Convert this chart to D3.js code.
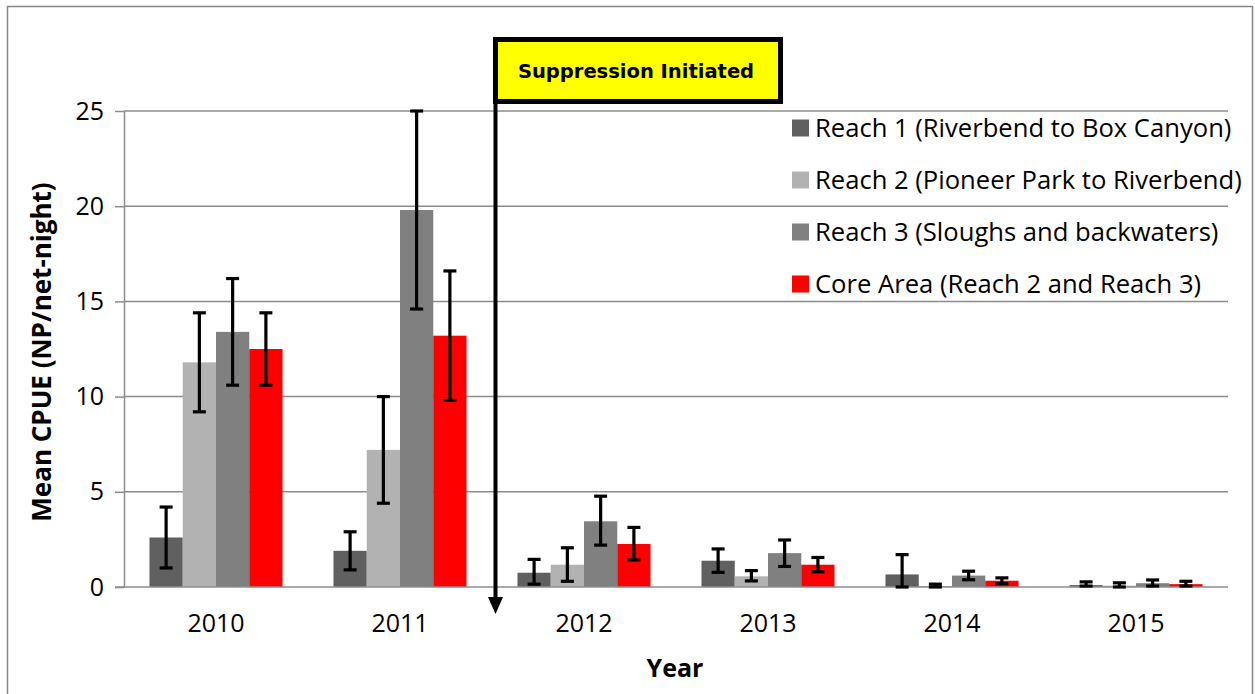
<!DOCTYPE html>
<html><head><meta charset="utf-8">
<script src="https://cdn.jsdelivr.net/npm/d3@7"></script>
<style>body{margin:0;background:#fff;} svg{display:block;}</style>
</head><body>
<svg id="c" width="1255" height="694"></svg>
<script>
const years = ["2010","2011","2012","2013","2014","2015"];
const seriesNames = ["Reach 1 (Riverbend to Box Canyon)","Reach 2 (Pioneer Park to Riverbend)","Reach 3 (Sloughs and backwaters)","Core Area (Reach 2 and Reach 3)"];
const seriesColors = ["#606060","#b2b2b2","#808080","#ff0000"];
const reach1 = [2.6, 1.9, 0.75, 1.38, 0.66, 0.1];
const reach2 = [11.8, 7.2, 1.17, 0.56, 0.05, 0.07];
const reach3 = [13.4, 19.8, 3.45, 1.78, 0.6, 0.2];
const core   = [12.5, 13.2, 2.26, 1.17, 0.33, 0.15];
const reach1Low  = [1.0, 0.9, 0.15, 0.77, 0.0, 0.05];
const reach1High = [4.2, 2.9, 1.45, 2.0, 1.7, 0.27];
const reach2Low  = [9.2, 4.4, 0.3, 0.32, 0.0, 0.0];
const reach2High = [14.4, 10.0, 2.06, 0.86, 0.15, 0.22];
const reach3Low  = [10.6, 14.6, 2.2, 1.08, 0.38, 0.05];
const reach3High = [16.2, 25.0, 4.77, 2.47, 0.83, 0.37];
const coreLow    = [10.6, 9.8, 1.42, 0.8, 0.17, 0.05];
const coreHigh   = [14.4, 16.6, 3.13, 1.55, 0.48, 0.3];
const yTicks = [0,5,10,15,20,25];

const values = [reach1, reach2, reach3, core];
const lows = [reach1Low, reach2Low, reach3Low, coreLow];
const highs = [reach1High, reach2High, reach3High, coreHigh];

const svg = d3.select("#c");
const font = "'Open Sans', Lato, sans-serif";
const L = 124, R = 1228, T = 111, B = 587;

// outer border
svg.append("rect").attr("x",7.5).attr("y",6.5).attr("width",1245).attr("height",700)
  .attr("fill","#fff").attr("stroke","#868686").attr("stroke-width",1.5);

const x0 = d3.scaleBand().domain(years).range([L,R]).paddingInner(0.277).paddingOuter(0.1385);
const x1 = d3.scaleBand().domain(d3.range(4)).range([0,x0.bandwidth()]);
const y = d3.scaleLinear().domain([0,25]).range([B,T]);

// gridlines
svg.append("g").selectAll("line").data(yTicks.filter(d=>d>0)).join("line")
  .attr("x1",L).attr("x2",R).attr("y1",d=>y(d)).attr("y2",d=>y(d))
  .attr("stroke","#8c8c8c").attr("stroke-width",1.5);

// y axis
const ya = svg.append("g").attr("transform",`translate(${L},0)`)
  .call(d3.axisLeft(y).tickValues(yTicks).tickSize(9).tickPadding(11).tickSizeOuter(0));
ya.select(".domain").attr("stroke","#8c8c8c").attr("stroke-width",1.5);
ya.selectAll(".tick line").attr("stroke","#8c8c8c").attr("stroke-width",1.5);
ya.selectAll("text").attr("font-family",font).attr("font-size",25).attr("fill","#000");

// bars
const data = [];
years.forEach((yr,i)=>{ for(let s=0;s<4;s++) data.push({yr,s,v:values[s][i],lo:lows[s][i],hi:highs[s][i]}); });
const bw = x1.bandwidth();
svg.append("g").selectAll("rect").data(data).join("rect")
  .attr("x",d=>x0(d.yr)+x1(d.s)).attr("width",bw)
  .attr("y",d=>y(d.v)).attr("height",d=>B-y(d.v))
  .attr("fill",d=>seriesColors[d.s]);

// x axis
const xa = svg.append("g").attr("transform",`translate(0,${B})`)
  .call(d3.axisBottom(x0).tickSize(0).tickPadding(27).tickSizeOuter(0));
xa.select(".domain").attr("stroke","#8c8c8c").attr("stroke-width",1.5).attr("d",`M${L-9},0H${R}`);
xa.selectAll("text").attr("font-family",font).attr("font-size",25).attr("fill","#000");

// error bars
const eg = svg.append("g").attr("stroke","#000").attr("stroke-width",3.2);
data.forEach(d=>{
  const cx = x0(d.yr)+x1(d.s)+bw/2;
  eg.append("line").attr("x1",cx).attr("x2",cx).attr("y1",y(d.lo)).attr("y2",y(d.hi));
  eg.append("line").attr("x1",cx-6.5).attr("x2",cx+6.5).attr("y1",y(d.lo)).attr("y2",y(d.lo));
  eg.append("line").attr("x1",cx-6.5).attr("x2",cx+6.5).attr("y1",y(d.hi)).attr("y2",y(d.hi));
});

// legend
const lg = svg.append("g");
seriesNames.forEach((n,i)=>{
  const cy = 128 + i*52;
  lg.append("rect").attr("x",792).attr("y",cy-8.5).attr("width",17).attr("height",17).attr("fill",seriesColors[i]);
  lg.append("text").attr("x",815).attr("y",cy).attr("dy","0.35em")
    .attr("font-family",font).attr("font-size",25.6).text(n);
});

// axis titles
svg.append("text").attr("transform","translate(51,352) rotate(-90)").attr("text-anchor","middle")
  .attr("font-family",font).attr("font-weight","bold").attr("font-size",26).text("Mean CPUE (NP/net-night)");
svg.append("text").attr("x",675).attr("y",677).attr("text-anchor","middle")
  .attr("font-family",font).attr("font-weight","bold").attr("font-size",25).text("Year");

// suppression annotation
svg.append("line").attr("x1",495.5).attr("x2",495.5).attr("y1",40).attr("y2",600)
  .attr("stroke","#000").attr("stroke-width",4);
svg.append("path").attr("d","M488,597L503,597L495.5,614Z").attr("fill","#000");
svg.append("rect").attr("x",495.5).attr("y",39.5).attr("width",285).attr("height",62)
  .attr("fill","#ffff00").attr("stroke","#000").attr("stroke-width",5);
svg.append("text").attr("x",636).attr("y",71).attr("dy","0.35em").attr("text-anchor","middle")
  .attr("font-family","'DejaVu Sans', sans-serif").attr("font-weight","bold").attr("font-size",19.5)
  .text("Suppression Initiated");
</script>
</body></html>
